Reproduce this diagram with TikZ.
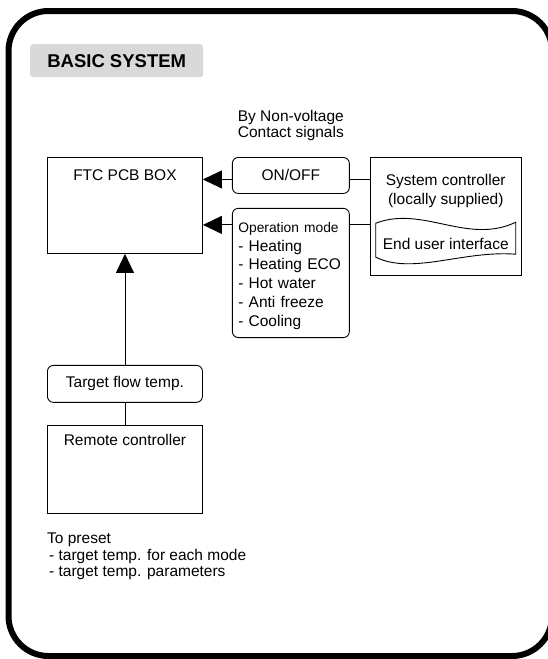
\documentclass[tikz,border=0pt]{standalone}
\usepackage{fontspec}
\setmainfont{Liberation Sans}
\usepackage{xcolor}
\usetikzlibrary{arrows.meta, positioning, calc}
\definecolor{titlegray}{HTML}{D9D9D9}

\begin{document}
\begin{tikzpicture}[x=1pt, y=-1pt, font=\fontsize{15.5}{18.8}\selectfont,
    box/.style={draw, rectangle, line width=0.9pt},
    rbox/.style={draw, rectangle, rounded corners=6pt, line width=0.9pt},
    wire/.style={line width=0.9pt},
    arr/.style={line width=0.9pt, -{Triangle[length=19pt, width=18pt]}}]
        \useasboundingbox (0,0) rectangle (548,659);

        % Frame
        \draw[line width=6pt, rounded corners=40pt] (8.5,11) rectangle (552,656);

        % Title
        \node[fill=titlegray, rounded corners=3pt, anchor=north west, minimum width=173pt, minimum height=33pt,
              font=\fontsize{18.5}{22}\selectfont\bfseries] (title) at (30,44) {BASIC SYSTEM};

        % FTC PCB box
        \node[box, anchor=north west, minimum width=155pt, minimum height=96pt,
              label={[anchor=north, inner sep=0pt, yshift=-12.5pt]north:FTC PCB BOX}] (ftc) at (47,157) {};

        % Signals
        \node[rbox, right=29pt of ftc.north east, anchor=north west, minimum width=117pt, minimum height=36pt] (onoff) {ON/OFF};
        \node[rbox, below=14pt of onoff.south west, anchor=north west, text width=105pt, align=left,
              inner xsep=6pt, inner ysep=8pt, minimum height=127pt] (opmode) {
            {\fontsize{13.8}{18.8}\selectfont\rule{0pt}{16pt}Operation mode}\\
            - Heating\\
            - Heating ECO\\
            - Hot water\\
            - Anti freeze\\
            - Cooling
        };
        \node[above=16pt of onoff, inner sep=0pt, align=center, font=\fontsize{15.5}{16}\selectfont] (signal) {
            By Non-voltage\\Contact signals
        };

        % System controller
        \node[box, right=20pt of onoff.north east, anchor=north west, minimum width=151pt, minimum height=118pt,
              label={[anchor=north, inner sep=0pt, align=center, yshift=-17.5pt]north:System controller\\(locally supplied)}] (sysctrl) {};
        \node[below=70pt of sysctrl.north, minimum width=140pt, minimum height=34pt] (eui) {End user interface};
        \draw[wire] ([shift={(-70,-21)}]eui.center) .. controls +(47,-18) and +(-48,23) .. ([shift={(70,-22)}]eui.center)
            -- ([shift={(70,10)}]eui.center) .. controls +(-53,-4) and +(37,18) .. ([shift={(-70,13)}]eui.center) -- cycle;

        % Remote controller
        \node[rbox, below=111pt of ftc, minimum width=155pt, minimum height=37pt] (target) {Target flow temp.};
        \node[box, below=22pt of target, minimum width=155pt, minimum height=88pt,
              label={[anchor=north, inner sep=0pt, yshift=-9pt]north:Remote controller}] (remote) {};
        \node[below=19pt of remote.south west, anchor=north west, inner sep=0pt, align=left,
              font=\fontsize{15.5}{16.5}\selectfont] (preset) {
            To preset\\
            \hspace{2pt}- target temp. for each mode\\
            \hspace{2pt}- target temp. parameters
        };

        % Connections
        \coordinate (onoffin) at ([yshift=-4pt]onoff.west);
        \coordinate (onoffout) at ([yshift=-4pt]onoff.east);
        \coordinate (modein) at ([yshift=-17pt]opmode.north west);
        \coordinate (modeout) at ([yshift=-17pt]opmode.north east);
        \draw[arr] (onoffin) -- (onoffin -| ftc.east);
        \draw[arr] (modein) -- (modein -| ftc.east);
        \draw[wire] (onoffout) -- (onoffout -| sysctrl.west);
        \draw[wire] (modeout) -- (modeout -| sysctrl.west);
        \draw[arr] (target) -- (ftc);
        \draw[wire] (target) -- (remote);
    \end{tikzpicture}
\end{document}
